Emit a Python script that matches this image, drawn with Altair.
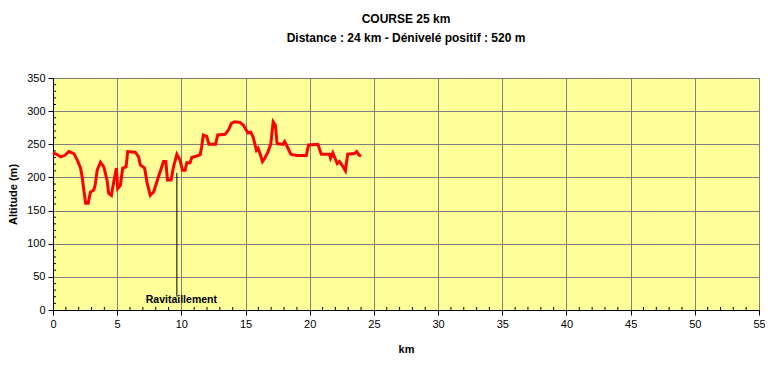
import altair as alt
import pandas as pd

km = [0.0, 0.3, 0.6, 0.9, 1.24, 1.63, 1.89, 2.15, 2.27, 2.4, 2.54, 2.74, 2.92, 3.18, 3.3, 3.44,
      3.7, 3.96, 4.21, 4.34, 4.55, 4.73, 4.94, 5.04, 5.25, 5.43, 5.69, 5.82, 6.41, 6.67, 6.8,
      7.14, 7.32, 7.58, 7.84, 8.22, 8.61, 8.79, 8.92, 9.2, 9.39, 9.65, 9.9, 10.08, 10.29, 10.42,
      10.68, 10.81, 11.46, 11.58, 11.71, 11.97, 12.15, 12.67, 12.83, 13.4, 13.65, 13.91, 14.17,
      14.56, 14.82, 15.07, 15.2, 15.41, 15.59, 15.72, 15.85, 15.98, 16.11, 16.32, 16.5, 16.76,
      16.97, 17.15, 17.32, 17.46, 17.92, 18.05, 18.31, 18.52, 18.95, 19.73, 19.91, 20.64, 20.9,
      21.54, 21.62, 21.8, 22.14, 22.32, 22.5, 22.78, 22.96, 23.48, 23.66, 23.82, 24.0]
altitude = [237, 235, 231, 233, 239, 236, 226, 214, 201, 181, 161, 161, 178, 181, 190, 211,
            223, 216, 196, 176, 173, 193, 214, 183, 188, 214, 216, 239, 238, 231, 219,
            214, 193, 173, 178, 201, 224, 224, 196, 196, 216, 235, 226, 211, 211, 222,
            222, 230, 234, 246, 264, 262, 250, 250, 264, 265, 271, 282, 284,
            283, 279, 271, 267, 268, 261, 251, 241, 244, 237, 224, 229, 239,
            251, 284, 279, 251, 250, 254, 244, 235, 233, 233, 249, 250, 235,
            235, 229, 237, 221, 224, 219, 210, 235, 236, 239, 234, 232]

x_major = list(range(0, 56, 5))
y_major = list(range(0, 351, 50))
x_minor = [k for k in range(0, 56) if k % 5 != 0]
y_minor = [a for a in range(0, 351, 10) if a % 50 != 0]

ravito_km = [9.65]
ravito_alt_top = [207]
ravito_alt_bottom = [20]
ravito_label = ["Ravitaillement"]
ravito_label_km = [10.0]
ravito_label_alt = [10]

title = "COURSE 25 km"
subtitle = "Distance : 24 km - Dénivelé positif : 520 m"

W, H = 706, 232
xs = alt.Scale(domain=[0, 55], nice=False, zero=False)
ys = alt.Scale(domain=[0, 350], nice=False)

xaxis = alt.Axis(values=x_major, title="km", grid=True, gridColor="#808080",
                 gridWidth=1, domainColor="#000000", tickColor="#000000",
                 tickSize=5, labelFont="Liberation Sans", labelFontSize=11,
                 labelColor="#000000", labelPadding=3, labelOverlap=False,
                 labelFlush=False,
                 titleFont="Liberation Sans", titleFontSize=11,
                 titleFontWeight="bold", titleColor="#000000", titlePadding=14)
yaxis = alt.Axis(values=y_major, title="Altitude (m)", grid=True,
                 gridColor="#808080",
                 gridWidth=1, domainColor="#000000", tickColor="#000000",
                 tickSize=5, labelFont="Liberation Sans", labelFontSize=11,
                 labelColor="#000000", labelPadding=3, labelOverlap=False,
                 labelFlush=False,
                 titleFont="Liberation Sans", titleFontSize=11,
                 titleFontWeight="bold", titleColor="#000000", titlePadding=8)

profile = pd.DataFrame({"km": km, "alt": altitude})

line = alt.Chart(profile).mark_line(color="#FF0000", strokeWidth=3, strokeJoin="miter").encode(
    x=alt.X("km:Q", scale=xs, axis=xaxis),
    y=alt.Y("alt:Q", scale=ys, axis=yaxis),
)

xminor = alt.Chart(pd.DataFrame({"km": x_minor})).mark_rule(color="#000000").encode(
    x=alt.X("km:Q", scale=xs, axis=xaxis), y=alt.value(H - 3), y2=alt.value(H))
yminor = alt.Chart(pd.DataFrame({"alt": y_minor})).mark_rule(color="#000000").encode(
    y=alt.Y("alt:Q", scale=ys, axis=yaxis), x=alt.value(0), x2=alt.value(3))

rdf = pd.DataFrame({"km": ravito_km, "alt": ravito_alt_top, "bottom": ravito_alt_bottom})
ravito = alt.Chart(rdf).mark_rule(color="#000000", strokeWidth=1).encode(
    x=alt.X("km:Q", scale=xs, axis=xaxis), y=alt.Y("alt:Q", scale=ys, axis=yaxis), y2="bottom:Q")

ldf = pd.DataFrame({"km": ravito_label_km, "alt": ravito_label_alt, "label": ravito_label})
ravito_text = alt.Chart(ldf).mark_text(font="Liberation Sans", fontSize=10.5, fontWeight="bold",
                                       color="#000000", baseline="alphabetic", align="center").encode(
    x=alt.X("km:Q", scale=xs, axis=xaxis), y=alt.Y("alt:Q", scale=ys, axis=yaxis), text="label:N")

t1 = alt.Chart(pd.DataFrame({"t": [title]})).mark_text(
    font="Liberation Sans", fontSize=12, fontWeight="bold", color="#000000",
    baseline="alphabetic", align="center").encode(
    x=alt.value(W / 2), y=alt.value(-55), text="t:N")
t2 = alt.Chart(pd.DataFrame({"t": [subtitle]})).mark_text(
    font="Liberation Sans", fontSize=12, fontWeight="bold", color="#000000",
    baseline="alphabetic", align="center").encode(
    x=alt.value(W / 2), y=alt.value(-36), text="t:N")

chart = alt.layer(line, xminor, yminor, ravito, ravito_text, t1, t2).properties(
    width=W, height=H,
    autosize=alt.AutoSizeParams(type="none"),
    padding={"left": 45, "top": 70, "right": 6, "bottom": 45},
    background="#FFFFFF",
).configure_view(fill="#FFFF99", stroke="#808080", strokeWidth=1)

chart.save("out.html", embed_options={"renderer": "svg", "actions": False})
